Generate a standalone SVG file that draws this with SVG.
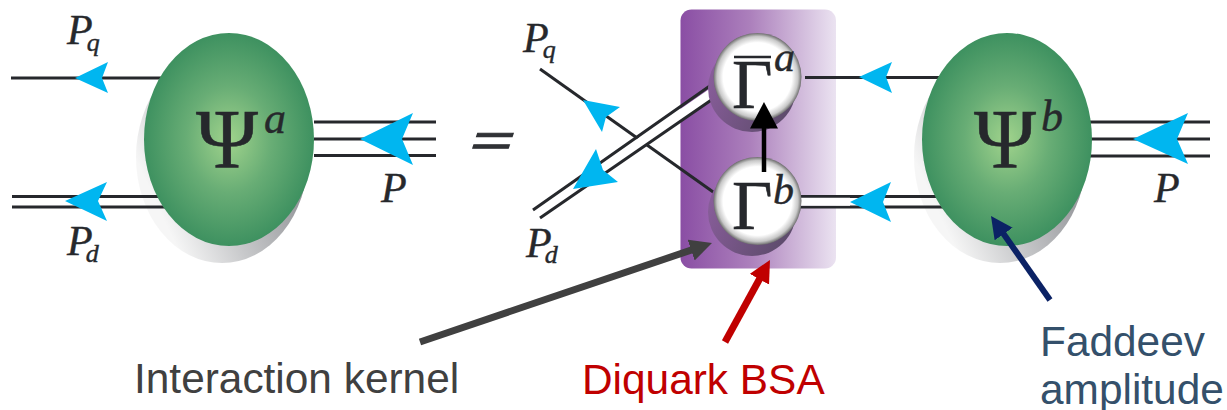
<svg xmlns="http://www.w3.org/2000/svg" width="1227" height="410" viewBox="0 0 1227 410">
<style>
.l{stroke:#26282c;stroke-width:3;fill:none}
.ar{fill:#00b6f0}
.m{font-family:"Liberation Serif",serif;font-style:italic;fill:#26282c;stroke:#26282c;stroke-width:.4}
.g{font-family:"Liberation Serif",serif;fill:#26282c;stroke:#26282c;stroke-width:.6}
.t{font-family:"Liberation Sans",Arial,sans-serif;font-size:42.4px}
</style>
<defs>
<radialGradient id="green" cx="0.5" cy="0.5" r="0.5"><stop offset="0" stop-color="#a0d38c"/><stop offset="0.5" stop-color="#68ad75"/><stop offset="1" stop-color="#3e9160"/></radialGradient>
<linearGradient id="shadow" x1="0.95" y1="0.55" x2="0.25" y2="0.95"><stop offset="0" stop-color="#8e9094"/><stop offset="0.6" stop-color="#c8c9cb"/><stop offset="1" stop-color="#f6f6f6"/></linearGradient>
<linearGradient id="purple" x1="0" y1="0" x2="1" y2="0"><stop offset="0" stop-color="#8a4ea4"/><stop offset="0.45" stop-color="#ac80bc"/><stop offset="1" stop-color="#ebe3f1"/></linearGradient>
<radialGradient id="ball" cx="0.5" cy="0.5" r="0.5"><stop offset="0" stop-color="#fff"/><stop offset="0.78" stop-color="#fff"/><stop offset="0.92" stop-color="#c8c8c8"/><stop offset="1" stop-color="#6e6e6e"/></radialGradient>
<linearGradient id="ballshadow" x1="0" y1="0.3" x2="1" y2="0.8"><stop offset="0" stop-color="#8a5e9c"/><stop offset="1" stop-color="#5a4a68"/></linearGradient>
<marker id="hk" markerUnits="userSpaceOnUse" markerWidth="26" markerHeight="26" refX="10" refY="11" orient="auto"><path d="M0 0L22 11L0 22z" fill="#404040"/></marker>
<marker id="hd" markerUnits="userSpaceOnUse" markerWidth="26" markerHeight="26" refX="10" refY="11" orient="auto"><path d="M0 0L22 11L0 22z" fill="#c00000"/></marker>
<marker id="hf" markerUnits="userSpaceOnUse" markerWidth="26" markerHeight="26" refX="10" refY="11" orient="auto"><path d="M0 0L22 11L0 22z" fill="#0b2265"/></marker>
</defs>

<g id="kernel-box"><rect x="680.500" y="9.500" width="155.500" height="259" rx="11" fill="url(#purple)"/></g>

<g id="shadows">
<ellipse cx="222" cy="157" rx="86" ry="106" fill="url(#shadow)"/>
<ellipse cx="1000" cy="157" rx="86" ry="106" fill="url(#shadow)"/>
</g>

<g id="connectors">
<path class="l" d="M11 78H165M12 196.500H170M12 207H170M314 122H436M314 139H436M314 155.500H436"/>
<path class="l" d="M805 77.500H945M800 196.500H945M800 207H945M1090 122H1210M1090 139H1210M1090 156H1210"/>
<path class="l" d="M540 69L716 194"/>
<path d="M536.500 214L718 89" stroke="#fff" stroke-width="10" fill="none"/>
<path class="l" d="M533 210L714 83M540 218L720 94"/>
<path d="M800 201.800H850" stroke="#fff" stroke-width="8" fill="none"/>
</g>

<g id="psi-a">
<ellipse cx="229" cy="139.500" rx="85" ry="106.500" fill="url(#green)"/>
<text class="g" x="196" y="168" font-size="84">Ψ</text>
<text class="m" x="264" y="133" font-size="44">a</text>
</g>
<g id="psi-b">
<ellipse cx="1007" cy="139.500" rx="85" ry="106.500" fill="url(#green)"/>
<text class="g" x="974" y="168" font-size="84">Ψ</text>
<text class="m" x="1041" y="131" font-size="44">b</text>
</g>
<g id="gamma-a">
<circle cx="752" cy="88" r="44" fill="url(#ballshadow)"/>
<circle cx="757.500" cy="77" r="44" fill="url(#ball)"/>
<path d="M734 57H771" stroke="#26282c" stroke-width="2.500"/>
<text class="g" x="732" y="108" font-size="70">Γ</text>
<text class="m" x="774" y="71" font-size="42">a</text>
</g>
<g id="gamma-b">
<circle cx="752" cy="212" r="44" fill="url(#ballshadow)"/>
<circle cx="757.500" cy="201" r="44" fill="url(#ball)"/>
<text class="g" x="732" y="229" font-size="70">Γ</text>
<text class="m" x="773" y="204" font-size="42">b</text>
</g>

<g id="arrows">
<path d="M764 172V122" stroke="#000" stroke-width="4.500"/>
<path d="M764 102L778 128.500H750z" fill="#000"/>
<path class="ar" d="M75 78L108 62L102 78L108 93z"/>
<path class="ar" d="M65 201L107 182L98 201L107 221z"/>
<path class="ar" d="M360 139L413 113L402 139L413 165z"/>
<path class="ar" d="M859 77L892 62L886 77L892 93z"/>
<path class="ar" d="M850 202L891 182L883 202L891 222z"/>
<path class="ar" d="M1133 139L1188 113L1177 139L1188 164z"/>
<path class="ar" d="M583 100L620 107L606 117L602 132z"/>
<path class="ar" d="M573 189L596 149L603 170L618 182z"/>
<path d="M420 342L700.600 246.900" stroke="#404040" stroke-width="7" fill="none" marker-end="url(#hk)"/>
<path d="M725 342L764.200 270.500" stroke="#c00000" stroke-width="7" fill="none" marker-end="url(#hd)"/>
<path d="M1050 300L997.900 225.800" stroke="#0b2265" stroke-width="6" fill="none" marker-end="url(#hf)"/>
</g>

<g id="momentum-labels">
<text class="m" x="67" y="44" font-size="42">P<tspan dx="-6" dy="7" font-size="26">q</tspan></text>
<text class="m" x="67" y="255" font-size="42">P<tspan dx="-7" dy="7" font-size="26">d</tspan></text>
<text class="m" x="381" y="202" font-size="42">P</text>
<text class="m" x="523" y="52" font-size="42">P<tspan dx="-6" dy="6" font-size="26">q</tspan></text>
<text class="m" x="526" y="257" font-size="42">P<tspan dx="-7" dy="6" font-size="26">d</tspan></text>
<text class="m" x="1154" y="202" font-size="42">P</text>
<text transform="translate(467 155.500) scale(1.24 .8) skewX(-12)" font-family="Liberation Sans,sans-serif" font-size="58" fill="#303236" stroke="#303236" stroke-width="1.500">=</text>
</g>

<g id="captions">
<text class="t" x="134" y="393" fill="#404040">Interaction kernel</text>
<text class="t" x="582" y="394" fill="#c00000">Diquark BSA</text>
<text class="t" x="1040" y="356" fill="#34506b">Faddeev</text>
<text class="t" x="1040" y="404" fill="#34506b">amplitude</text>
</g>
</svg>
